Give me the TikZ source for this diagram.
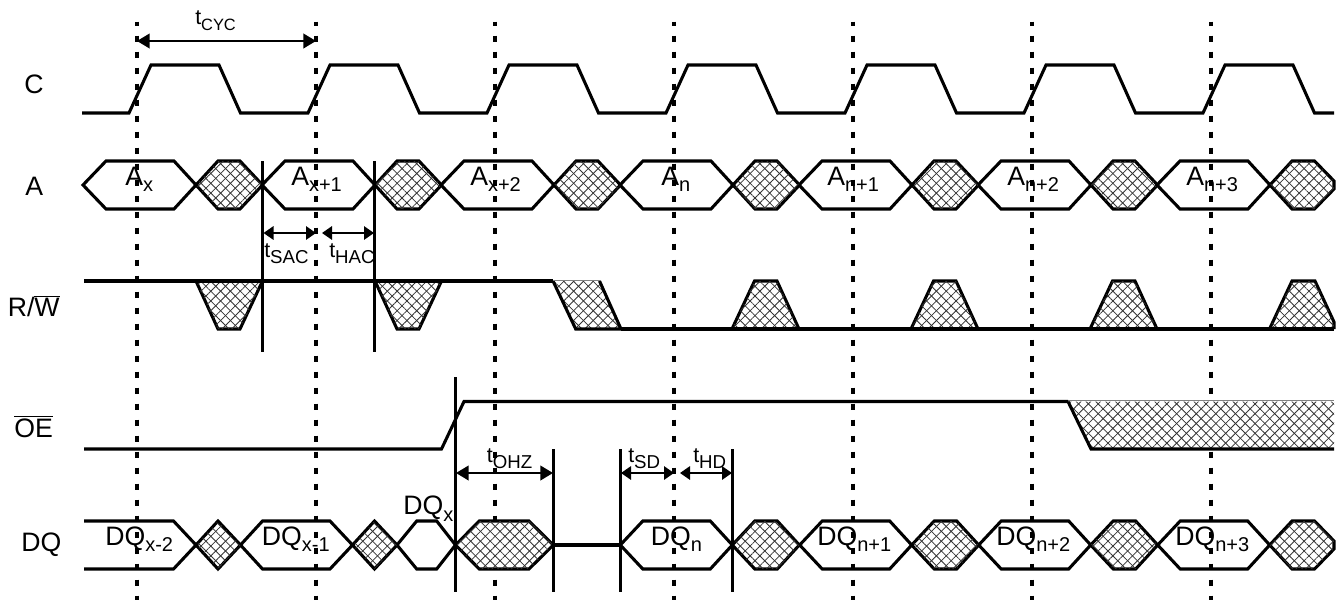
\documentclass[tikz,border=0pt]{standalone}
\usepackage{fontspec}
\setmainfont{Liberation Sans}
\usetikzlibrary{arrows.meta,patterns.meta}

\newcommand{\subs}[1]{\raisebox{-5.2pt}{\fontsize{15}{16}\selectfont #1}}
\newcommand{\tsub}[2][14]{\raisebox{-4.6pt}{\fontsize{#1}{15}\selectfont #2}}

\begin{document}
\begin{tikzpicture}[
  x=0.75pt, y=-0.75pt,
  sig/.style={line width=2.3pt, line join=miter},
  hatchfill/.style={fill=white,
    postaction={pattern={Lines[angle=45,distance=5.2pt,line width=.6pt]}, pattern color=black!80},
    postaction={pattern={Lines[angle=-45,distance=5.2pt,line width=.6pt]}, pattern color=black!80}},
  hatchbox/.style={hatchfill, line width=2.3pt, draw=black},
  grid/.style={line width=2.4pt, dash pattern=on 5pt off 7pt, dash phase=1.5pt},
  tickline/.style={line width=2.3pt},
  dim/.style={{Triangle[length=9.5pt,width=11pt]}-{Triangle[length=9.5pt,width=11pt]}, line width=1.5pt},
  sdim/.style={{Triangle[length=7.5pt,width=10pt]}-{Triangle[length=7.5pt,width=10pt]}, line width=1.5pt},
  lab/.style={font=\fontsize{20}{22}\selectfont, anchor=base west, inner sep=0pt},
  tlab/.style={font=\fontsize{16}{18}\selectfont, anchor=base west, inner sep=0pt},
]
\useasboundingbox (0,0) rectangle (1342,600);

%── Clock grid ─────────────────────────────────────────────────────────────────

\foreach \x in {137,316,495,674,853,1032,1211}
  \draw[grid] (\x,21.7) -- (\x,600);

%── Signal names ───────────────────────────────────────────────────────────────

\node[lab] (nc)  at (24,93)    {C};
\node[lab] (na)  at (25,195)   {A};
\node[lab] (nrw) at (7.5,316.7)  {R/$\overline{\hbox{W}}$};
\node[lab] (noe) at (14,437)   {$\overline{\hbox{OE}}$};
\node[lab] (ndq) at (21,551.7) {DQ};

%── C ──────────────────────────────────────────────────────────────────────────

\draw[sig] (82,113) -- (129,113)
  \foreach \x in {0,179,358,537,716,895,1074} {
    -- ({129+\x},113) -- ({151+\x},65) -- ({219+\x},65) -- ({240.5+\x},113)
  } -- (1334,113);

%── A ──────────────────────────────────────────────────────────────────────────

\foreach \x in {83,262,441,620,799,978,1157} {
  \draw[sig] (\x,185) -- ({\x+23},161) -- ({\x+91},161) -- ({\x+113},185)
    -- ({\x+91},209) -- ({\x+23},209) -- cycle;
}
\foreach \x in {196,375,554,733,912,1091} {
  \draw[hatchbox] (\x,185) -- ({\x+22},161) -- ({\x+44},161) -- ({\x+66.5},185)
    -- ({\x+44},209) -- ({\x+22},209) -- cycle;
}
\draw[hatchbox] (1270,185) -- (1292,161) -- (1314.5,161) -- (1334,181) -- (1334,189)
  -- (1314.5,209) -- (1292,209) -- cycle;

\node[lab] (ax)  at (125,185) {A\subs{x}};
\node[lab] (ax1) at (291,185) {A\subs{x+1}};
\node[lab] (ax2) at (470,185) {A\subs{x+2}};
\node[lab] (an)  at (661,185) {A\subs{n}};
\node[lab] (an1) at (827,185) {A\subs{n+1}};
\node[lab] (an2) at (1007,185) {A\subs{n+2}};
\node[lab] (an3) at (1186,185) {A\subs{n+3}};

%── R/W ────────────────────────────────────────────────────────────────────────

\foreach \x in {196,375} {
  \draw[hatchbox] (\x,281) -- ({\x+22},329) -- ({\x+44},329) -- ({\x+66.5},281);
}
\path[hatchfill] (553,281) -- (575.7,329) -- (621,329) -- (599.5,281) -- cycle;
\draw[sig] (553,281) -- (575.7,329) -- (621,329) -- (599.5,281);
\draw[gray, line width=.7pt] (553,280.5) -- (599.5,280.5);
\foreach \x in {732,911,1090} {
  \draw[hatchbox] (\x,329) -- ({\x+22.5},281) -- ({\x+45},281) -- ({\x+67},329);
}
\draw[hatchbox] (1269.5,329) -- (1292,281) -- (1315,281) -- (1334,322) -- (1334,329);
\draw[sig] (84,281) -- (553,281);
\draw[sig] (621,329) -- (1334,329);

%── OE ─────────────────────────────────────────────────────────────────────────

\path[hatchfill] (1068,401.5) -- (1091,449) -- (1334,449) -- (1334,401.5) -- cycle;
\draw[sig] (1068,401.5) -- (1091,449) -- (1334,449);
\draw[gray, line width=.7pt] (1068,400.5) -- (1334,400.5);
\draw[sig] (84,449) -- (441.5,449) -- (464,401.5) -- (1068,401.5);

%── DQ ─────────────────────────────────────────────────────────────────────────

\draw[sig] (84,521) -- (173.5,521) -- (196,545) -- (173.5,569) -- (84,569);
\draw[sig] (240.5,545) -- (262.5,521) -- (330,521) -- (352.5,545)
  -- (330,569) -- (262.5,569) -- cycle;
\draw[sig] (397,545) -- (416.7,521) -- (436.7,521) -- (455.5,545)
  -- (436.7,569) -- (416.7,569) -- cycle;
\draw[hatchbox] (196,545) -- (218,521) -- (240.5,545) -- (218,569) -- cycle;
\draw[hatchbox] (352.5,545) -- (374.5,521) -- (397,545) -- (374.5,569) -- cycle;
\draw[hatchbox] (455.5,545) -- (479.3,521) -- (529,521) -- (553.3,545)
  -- (529,569) -- (479.3,569) -- cycle;
\draw[sig] (553.3,545) -- (620.3,545);
\foreach \x in {620.3,799.7,978.7,1157.7} {
  \draw[sig] (\x,545) -- ({\x+22.5},521) -- ({\x+90},521) -- ({\x+112},545)
    -- ({\x+90},569) -- ({\x+22.5},569) -- cycle;
}
\foreach \x in {732.3,911.7,1090.7} {
  \draw[hatchbox] (\x,545) -- ({\x+22.5},521) -- ({\x+45},521) -- ({\x+67},545)
    -- ({\x+45},569) -- ({\x+22.5},569) -- cycle;
}
\draw[hatchbox] (1269.7,545) -- (1292,521) -- (1314.5,521) -- (1334,541) -- (1334,549)
  -- (1314.5,569) -- (1292,569) -- cycle;

\node[lab] (dx2) at (105,545)   {DQ\subs{x-2}};
\node[lab] (dx1) at (261.7,545) {DQ\subs{x-1}};
\node[lab] (dx)  at (403,514.3) {DQ\subs{x}};
\node[lab] (dn)  at (650.7,545) {DQ\subs{n}};
\node[lab] (dn1) at (817,545)   {DQ\subs{n+1}};
\node[lab] (dn2) at (996,545)   {DQ\subs{n+2}};
\node[lab] (dn3) at (1175,545)  {DQ\subs{n+3}};

%── Timing marks ───────────────────────────────────────────────────────────────

\draw[tickline] (262.5,161) -- (262.5,352);
\draw[tickline] (374.7,161) -- (374.7,352);
\draw[tickline] (455.5,377) -- (455.5,592);
\draw[tickline] (553.3,449) -- (553.3,592);
\draw[tickline] (620.3,449) -- (620.3,592);
\draw[tickline] (732.3,449) -- (732.3,592);

\coordinate (cyca) at (137,41);
\coordinate (cycb) at (316,41);
\coordinate (saca) at (263.5,233);
\coordinate (sacb) at (316,233);
\coordinate (haca) at (322,233);
\coordinate (hacb) at (374,233);
\coordinate (ohza) at (456,473);
\coordinate (ohzb) at (553,473);
\coordinate (sda)  at (621,473);
\coordinate (sdb)  at (674,473);
\coordinate (hda)  at (680,473);
\coordinate (hdb)  at (732,473);

\draw[dim]  (cyca) -- (cycb);
\draw[sdim] (saca) -- (sacb);
\draw[sdim] (haca) -- (hacb);
\draw[dim]  (ohza) -- (ohzb);
\draw[sdim] (sda)  -- (sdb);
\draw[sdim] (hda)  -- (hdb);

\node[tlab] (tcyc) at (195,24)    {t\tsub[12.3]{CYC}};
\node[tlab] (tsac) at (264,257.3) {t\tsub{SAC}};
\node[tlab] (thac) at (329,257.3) {t\tsub{HAC}};
\node[tlab] (tohz) at (486.7,462.7) {t\tsub{OHZ}};
\node[tlab] (tsd)  at (628,462.7) {t\tsub{SD}};
\node[tlab] (thd)  at (693,462.7) {t\tsub{HD}};

\end{tikzpicture}
\end{document}
